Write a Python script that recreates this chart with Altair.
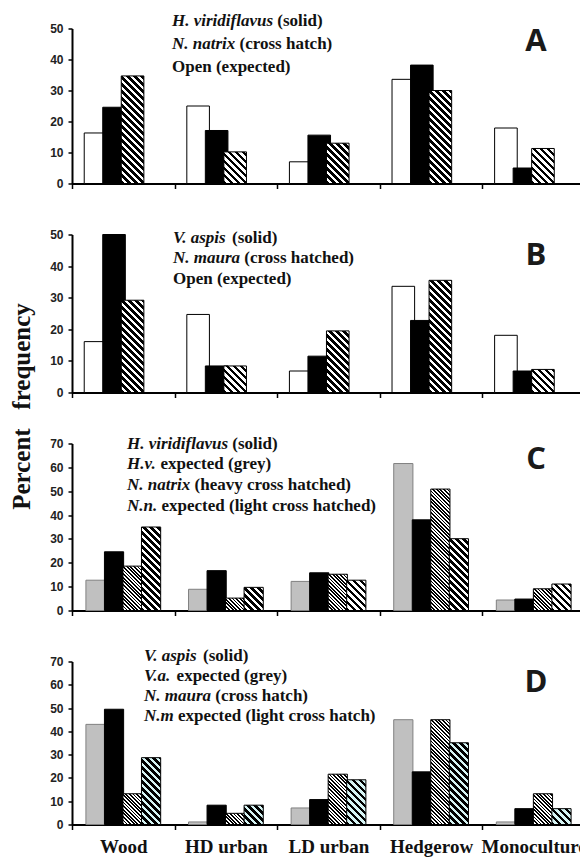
import altair as alt

# ---------------- data ----------------
categories = ["Wood", "HD urban", "LD urban", "Hedgerow", "Monoculture"]

# Panel A (frequency, %)
a_expected = [16.3, 25.0, 7.0, 33.6, 17.9]
a_viridiflavus = [24.6, 17.1, 15.6, 38.2, 5.0]
a_natrix = [34.7, 10.2, 13.0, 30.0, 11.3]

# Panel B
b_expected = [16.1, 24.7, 6.8, 33.6, 18.1]
b_aspis = [50.0, 8.4, 11.5, 22.8, 6.8]
b_maura = [29.2, 8.4, 19.5, 35.5, 7.3]

# Panel C
c_hv_expected = [12.7, 8.9, 12.2, 61.6, 4.4]
c_viridiflavus = [24.6, 16.7, 15.8, 38.0, 4.8]
c_nn_expected = [18.6, 5.2, 15.2, 50.9, 9.1]
c_natrix = [35.0, 9.7, 12.7, 30.1, 11.1]

# Panel D
d_va_expected = [43.0, 1.1, 7.1, 45.0, 1.1]
d_aspis = [49.5, 8.3, 10.7, 22.6, 6.8]
d_nm_expected = [13.2, 4.8, 21.6, 45.0, 13.2]
d_maura = [28.7, 8.3, 19.2, 35.1, 6.8]

ticks_ab = [0, 10, 20, 30, 40, 50]
ticks_cd = [0, 10, 20, 30, 40, 50, 60, 70]

legend_a = [("H. viridiflavus", "(solid)"), ("N. natrix", "(cross hatch)"), ("", "Open (expected)")]
legend_b = [("V. aspis", "(solid)"), ("N. maura", "(cross hatched)"), ("", "Open (expected)")]
legend_c = [("H. viridiflavus", "(solid)"), ("H.v.", "expected (grey)"),
            ("N. natrix", "(heavy cross hatched)"), ("N.n.", "expected (light cross hatched)")]
legend_d = [("V. aspis", "(solid)"), ("V.a.", "expected (grey)"),
            ("N. maura", "(cross hatch)"), ("N.m", "expected (light cross hatch)")]

y_title = "Percent\u00a0\u00a0\u00a0frequency"

# ---------------- styling helpers ----------------
W = 513
SERIF = "Liberation Serif"
SANS = "Liberation Sans"
FS_LEG = 17

# Times New Roman Bold Italic advance widths (1/1000 em) for legend italics
BI = {"H": 778, ".": 250, " ": 250, "v": 444, "i": 278, "r": 389, "d": 500, "f": 333,
      "l": 278, "a": 500, "u": 556, "s": 389, "N": 722, "n": 556, "t": 278, "x": 500,
      "V": 667, "p": 500, "m": 778}


def text_width(s, size):
    return sum(BI.get(ch, 500) for ch in s) * size / 1000.0


def hatch(h, w, period, frac, ink, gap):
    h = max(h, 0.5)
    L = w + h
    stops = []
    s = 0.0
    while s < L:
        a = s / L
        b = min((s + period * frac) / L, 1.0)
        c = min((s + period) / L, 1.0)
        stops += [{"offset": a, "color": ink}, {"offset": b, "color": ink},
                  {"offset": b, "color": gap}, {"offset": c, "color": gap}]
        s += period
    k = w * (w + h) / (w * w + h * h)
    return {"gradient": "linear", "x1": 0, "y1": 1, "x2": k, "y2": 1 - k * h / w,
            "stops": stops}


STYLES = {
    "open": ("white", "black", None),
    "solid": ("black", "black", None),
    "grey": ("#c0c0c0", "#808080", None),
    "coarse": (None, "black", (7.0, 0.5, "black", "white")),
    "coarse_cyan": (None, "black", (7.0, 0.5, "black", "#d6f4f4")),
    "fine": (None, "black", (3.6, 0.5, "black", "white")),
}


def panel(series, dmax, H, ticks, barw, legend, lx, ly0, ldy, letter, letter_y,
          show_labels, extra_layers=()):
    n = len(series)
    band = W / len(categories)
    pad = (band / barw - n) / 2.0
    rows = []
    for k, (name, values, style) in enumerate(series):
        fill, stroke, hp = STYLES[style]
        for cat, v in zip(categories, values):
            f = fill
            if hp is not None:
                f = hatch(v / dmax * H, barw, *hp)
            rows.append({"cat": cat, "k": k, "series": name, "v": v,
                         "fill": f, "stroke": stroke})

    common = dict(title=None, tickBand="extent", tickSize=5, tickWidth=1.5,
                  tickColor="black", domainColor="black", domainWidth=2)
    if show_labels:
        xaxis = alt.Axis(labelAngle=0, labelFont=SERIF, labelFontWeight="bold",
                         labelFontSize=19, labelColor="#111", labelPadding=8,
                         labelOverlap=False, labelBound=False, **common)
    else:
        xaxis = alt.Axis(labels=False, **common)

    bars = alt.Chart(alt.Data(values=rows)).mark_bar(strokeWidth=1, width=barw).encode(
        x=alt.X("cat:N", sort=categories,
                scale=alt.Scale(paddingInner=0, paddingOuter=0), axis=xaxis),
        xOffset=alt.XOffset("k:O",
                            scale=alt.Scale(paddingInner=0, paddingOuter=pad)),
        y=alt.Y("v:Q", stack=None, scale=alt.Scale(domain=[0, dmax], nice=False),
                axis=alt.Axis(title=None, values=ticks, grid=False, tickSize=4,
                              tickWidth=1.5, tickColor="black", domainColor="black",
                              domainWidth=2, labelFont=SANS, labelFontWeight="bold",
                              labelFontSize=12, labelColor="#222", labelPadding=5)),
        fill=alt.Fill("fill:N", scale=None, legend=None),
        stroke=alt.Stroke("stroke:N", scale=None, legend=None),
    )

    layers = [bars]
    space = 250 * FS_LEG / 1000.0
    for i, (ital, reg) in enumerate(legend):
        y = ly0 + i * ldy
        x = lx
        if ital:
            layers.append(alt.Chart(alt.Data(values=[{"t": ital}])).mark_text(
                align="left", baseline="middle", font=SERIF, fontSize=FS_LEG,
                fontWeight="bold", fontStyle="italic", color="#111").encode(
                text="t:N", x=alt.value(x), y=alt.value(y)))
            x = lx + text_width(ital, FS_LEG) + space
        layers.append(alt.Chart(alt.Data(values=[{"t": reg}])).mark_text(
            align="left", baseline="middle", font=SERIF, fontSize=FS_LEG,
            fontWeight="bold", color="#111").encode(
            text="t:N", x=alt.value(x), y=alt.value(y)))

    layers.append(alt.Chart(alt.Data(values=[{"t": letter}])).mark_text(
        align="center", baseline="middle", font="Open Sans", fontSize=31,
        fontWeight="bold", color="#1a1a1a").encode(
        text="t:N", x=alt.value(464), y=alt.value(letter_y)))
    layers.extend(extra_layers)

    return alt.layer(*layers).properties(width=W, height=H)


ytitle_layer = alt.Chart(alt.Data(values=[{"t": y_title}])).mark_text(
    angle=270, align="center", baseline="middle", font=SERIF, fontSize=25,
    fontWeight="bold", color="#111").encode(
    text="t:N", x=alt.value(-50), y=alt.value(172))

pA = panel([("Expected", a_expected, "open"),
            ("H. viridiflavus", a_viridiflavus, "solid"),
            ("N. natrix", a_natrix, "coarse")],
           50, 155, ticks_ab, 22.6, legend_a, 100, -8, 23, "A", 13, False)
pB = panel([("Expected", b_expected, "open"),
            ("V. aspis", b_aspis, "solid"),
            ("N. maura", b_maura, "coarse")],
           50, 158, ticks_ab, 22.6, legend_b, 101, 3, 20.5, "B", 21, False,
           extra_layers=[ytitle_layer])
pC = panel([("H.v. expected", c_hv_expected, "grey"),
            ("H. viridiflavus", c_viridiflavus, "solid"),
            ("N.n. expected", c_nn_expected, "fine"),
            ("N. natrix", c_natrix, "coarse")],
           70, 167, ticks_cd, 19.2, legend_c, 55, 0, 20.7, "C", 16, False)
pD = panel([("V.a. expected", d_va_expected, "grey"),
            ("V. aspis", d_aspis, "solid"),
            ("N.m expected", d_nm_expected, "fine"),
            ("N. maura", d_maura, "coarse_cyan")],
           70, 163, ticks_cd, 19.2, legend_d, 72, -6, 20, "D", 21, True)

chart = alt.vconcat(pA, pB, pC, pD, spacing=51, bounds="flush").properties(
    padding={"left": 2, "top": 3.5, "right": -7, "bottom": 1}
).configure_view(stroke=None)

chart.save("out.html", embed_options={"renderer": "svg", "actions": False})
